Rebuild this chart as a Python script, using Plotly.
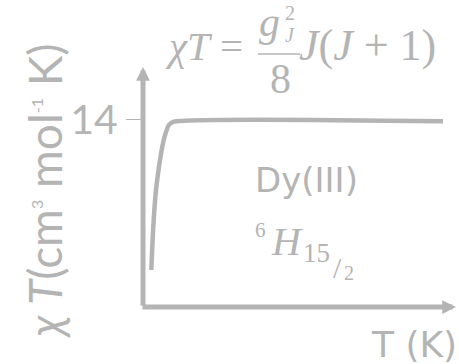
import plotly.graph_objects as go

# Schematic chi*T vs T curve for a Dy(III) ion
temperature = [8.3, 10.3, 12.7, 16.0, 19.3, 22.7, 26.0, 31.0, 300.0]
chi_t = [2.77, 6.01, 8.53, 10.50, 12.00, 13.03, 13.63, 13.87, 13.9]
y_ticks = [14]
y_tick_labels = ["14"]

GRAY = "#b4b4b4"
W, H = 459, 364
L, R, T, B = 143, 6, 70, 57
PW, PH = W - L - R, H - T - B


def px(x, y):
    """Convert page pixel coordinates to paper coordinates."""
    return (x - L) / PW, (H - B - y) / PH


fig = go.Figure()
fig.add_trace(go.Scatter(
    x=temperature, y=chi_t, mode="lines",
    line=dict(color=GRAY, width=4.5, shape="spline", smoothing=0.6),
    hoverinfo="skip", showlegend=False,
))

annotations = []


def text(x, y, s, size, family="Lato", xanchor="center", yanchor="middle", angle=0):
    xp, yp = px(x, y)
    annotations.append(dict(
        x=xp, y=yp, xref="paper", yref="paper", text=s, showarrow=False,
        xanchor=xanchor, yanchor=yanchor, textangle=angle, borderpad=0,
        font=dict(family=family, size=size, color=GRAY),
    ))


# axis arrows
xt, yt = px(143, 67)
annotations.append(dict(x=xt, y=yt, xref="paper", yref="paper", ax=0, ay=240,
                        showarrow=True, arrowhead=2, arrowsize=0.55, arrowwidth=5,
                        arrowcolor=GRAY, text=""))
xt, yt = px(456, 307)
annotations.append(dict(x=xt, y=yt, xref="paper", yref="paper", ax=-315, ay=0,
                        showarrow=True, arrowhead=2, arrowsize=0.55, arrowwidth=5,
                        arrowcolor=GRAY, text=""))

SERIF = "Liberation Serif"
# chi T = g_J^2 / 8 * J(J + 1)
text(244, 46, "<i>χT</i> =", 41, SERIF, xanchor="right")
text(269, 22, "<i>g</i>", 42, SERIF)
text(290, 13, "2", 20, SERIF)
text(290, 35, "<i>J</i>", 20, SERIF)
text(280, 79, "8", 42, SERIF)
text(298, 46, "<i>J</i>(<i>J</i> + 1)", 44, SERIF, xanchor="left")

# ion label and ground term
text(306, 180, "Dy(III)", 34, "DejaVu Sans")
text(260, 230, "6", 21, SERIF)
text(287, 241, "<i>H</i>", 40, SERIF)
text(316, 253, "15", 27, SERIF)
text(337, 267, "/", 30, SERIF)
text(349, 273, "2", 20, SERIF)

# axis titles
text(414, 344, "T (K)", 36, "DejaVu Sans")
text(44, 191, "<i>χ T</i>(cm<sup><span style='font-size:16px'>3</span></sup> mol"
     "<sup><span style='font-size:16px'>-1</span></sup> K)", 46, angle=-90)

bar_x0, bar_y = px(258, 54)
bar_x1, _ = px(300, 54)

fig.update_layout(
    width=W, height=H, margin=dict(l=L, r=R, t=T, b=B),
    paper_bgcolor="white", plot_bgcolor="white",
    xaxis=dict(range=[0, 310], visible=False, fixedrange=True),
    yaxis=dict(range=[0, 17.74], tickvals=y_ticks, ticktext=y_tick_labels,
               ticks="outside", ticklen=16, tickwidth=1.2, tickcolor=GRAY,
               tickfont=dict(family="Lato", size=41, color=GRAY),
               showgrid=False, zeroline=False, showline=False),
    annotations=annotations,
    shapes=[dict(type="line", xref="paper", yref="paper",
                 x0=bar_x0, x1=bar_x1, y0=bar_y, y1=bar_y,
                 line=dict(color=GRAY, width=1.5))],
)

fig.write_html("out.html")
